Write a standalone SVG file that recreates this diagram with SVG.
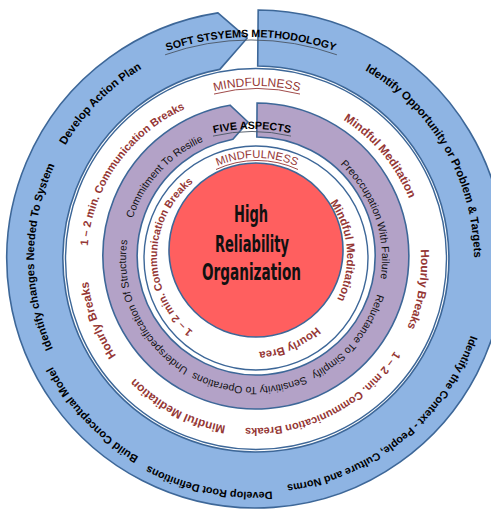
<svg xmlns="http://www.w3.org/2000/svg" width="491" height="512" viewBox="0 0 491 512">
<style>
.band{stroke:#3d6798;stroke-width:1.6;stroke-linejoin:miter}
.blue{fill:#8eb4e3}
.purple{fill:#b3a2c7}
.ring{fill:#fff;stroke:#3d6798;stroke-width:1.4}
.red{fill:#ff5f5f;stroke:#3d6798;stroke-width:1.6}
text{font-family:"Liberation Sans",Arial,sans-serif}
.bt{font-weight:bold;fill:#000;text-anchor:middle}
.pt{fill:#111;text-anchor:middle;font-size:10.5px}
.rt{font-weight:bold;fill:#953735;text-anchor:middle}
.mf{fill:#953735;text-anchor:middle}
.ul{fill:none;stroke-width:0.9}
.ctr{font-family:"Liberation Sans Narrow","DejaVu Sans Condensed","Liberation Sans",sans-serif;font-weight:bold;font-size:23px;fill:#111;text-anchor:middle}
</style>
<defs>
<path id="pB218" d="M256,477 A218,218 0 1 1 256,41 A218,218 0 1 1 256,477"/>
<path id="pB222" d="M256,481 A222,222 0 1 1 256,37 A222,222 0 1 1 256,481"/>
<path id="pB228" d="M256,487 A228,228 0 1 1 256,31 A228,228 0 1 1 256,487"/>
<path id="pB230" d="M256,489 A230,230 0 1 1 256,29 A230,230 0 1 1 256,489"/>
<path id="pB233" d="M256,492 A233,233 0 1 1 256,26 A233,233 0 1 1 256,492"/>
<path id="pP" d="M254,387 A128,128 0 1 1 254,131 A128,128 0 1 1 254,387"/>
<path id="pM" d="M254,428 A167,167 0 1 1 254,94 A167,167 0 1 1 254,428"/>
<path id="pI" d="M252,352 A95,95 0 1 1 252,162 A95,95 0 1 1 252,352"/>
<path id="pSoft" d="M121.5,71.7 A259,259 0 0 1 380.5,71.7"/>
<path id="pMind1" d="M146.4,126.2 A172,172 0 0 1 367.6,126.2"/>
<path id="pMind2" d="M180.4,193.7 A100,100 0 0 1 333.6,193.7"/>
<path id="pFive" d="M166.5,151.9 A171,171 0 0 1 337.5,151.9"/>
</defs>
<rect width="491" height="512" fill="#fff"/>

<g id="middle-ring">
<circle class="ring" cx="256" cy="259" r="190.5"/>
</g>

<g id="soft-systems-arrow">
<path class="band blue" d="M258.17,10.01 A249,249 0 1 1 217.9,12.9 L247.1,38.2 L219.8,69.4 A193,193 0 1 0 257.7,66 Z"/>
</g>

<g id="five-aspects-arrow">
<path class="band purple" d="M257.07,103 A153,153 0 1 1 230,105.2 L248,122 L232.9,139.3 A119,119 0 1 0 256.83,137 Z"/>
</g>

<g id="inner-ring">
<circle class="ring" cx="256" cy="258" r="112"/>
</g>

<g id="hro-core">
<circle class="red" cx="256" cy="250" r="87"/>
<text class="ctr" x="251" y="222" textLength="34" lengthAdjust="spacingAndGlyphs">High</text>
<text class="ctr" x="252" y="252" textLength="74" lengthAdjust="spacingAndGlyphs">Reliability</text>
<text class="ctr" x="251.5" y="280" textLength="99" lengthAdjust="spacingAndGlyphs">Organization</text>
</g>

<g id="methodology-steps">
<text class="bt" font-size="11.4" transform="rotate(59.85 256 259)"><textPath href="#pB218" startOffset="50%">Identify Opportunity or Problem &amp; Targets</textPath></text>
<text class="bt" font-size="10.8" transform="rotate(140.9 256 259)"><textPath href="#pB228" startOffset="50%">Identify the Context - People, Culture and Norms</textPath></text>
<text class="bt" font-size="10.8" transform="rotate(191.8 256 259)"><textPath href="#pB233" startOffset="50%">Develop Root Definitions</textPath></text>
<text class="bt" font-size="11.1" transform="rotate(226.4 256 259)"><textPath href="#pB230" startOffset="50%">Build Conceptual Model</textPath></text>
<text class="bt" font-size="11.1" transform="rotate(270.6 256 259)"><textPath href="#pB222" startOffset="50%">Identify changes Needed To System</textPath></text>
<text class="bt" font-size="11.4" transform="rotate(314.9 256 259)"><textPath href="#pB222" startOffset="50%">Develop Action Plan</textPath></text>
<text class="bt" font-size="10.7"><textPath href="#pSoft" startOffset="50%">SOFT STSYEMS METHODOLOGY</textPath></text>
<path class="ul" stroke="#4a5563" d="M165.1,54.8 A256,256 0 0 1 336.9,54.8"/>
</g>

<g id="five-aspects">
<text class="pt" transform="rotate(70.6 254 259)"><textPath href="#pP" startOffset="50%">Preoccupation With Failure</textPath></text>
<text class="pt" transform="rotate(129.6 254 259)"><textPath href="#pP" startOffset="50%">Reluctance To Simplify</textPath></text>
<text class="pt" transform="rotate(182.2 254 259)"><textPath href="#pP" startOffset="50%">Sensitivity To Operations</textPath></text>
<text class="pt" transform="rotate(244.6 254 259)"><textPath href="#pP" startOffset="50%">Underspecification Of Structures</textPath></text>
<text class="pt" transform="rotate(312.6 254 259)"><textPath href="#pP" startOffset="50%">Commitment To Resilie</textPath></text>
<text class="bt" font-size="10.7"><textPath href="#pFive" startOffset="50%">FIVE ASPECTS</textPath></text>
<path class="ul" stroke="#4a5563" d="M213,136.1 A168.5,168.5 0 0 1 291,136.1"/>
</g>

<g id="mindfulness-outer">
<text class="mf" font-size="12"><textPath href="#pMind1" startOffset="50%">MINDFULNESS</textPath></text>
<path class="ul" stroke="#953735" d="M214,94.05 A169.5,169.5 0 0 1 300,94.05"/>
<text class="rt" font-size="11.8" transform="rotate(50.2 254 261)"><textPath href="#pM" startOffset="50%">Mindful Meditation</textPath></text>
<text class="rt" font-size="11.8" transform="rotate(99.8 254 261)"><textPath href="#pM" startOffset="50%">Hourly Breaks</textPath></text>
<text class="rt" font-size="11" transform="rotate(152.8 254 261)"><textPath href="#pM" startOffset="50%">1 – 2 min. Communication Breaks</textPath></text>
<text class="rt" font-size="11.8" transform="rotate(207.6 254 261)"><textPath href="#pM" startOffset="50%">Mindful Meditation</textPath></text>
<text class="rt" font-size="11.8" transform="rotate(249.2 254 261)"><textPath href="#pM" startOffset="50%">Hourly Breaks</textPath></text>
<text class="rt" font-size="11" transform="rotate(305.4 254 261)"><textPath href="#pM" startOffset="50%">1 – 2 min. Communication Breaks</textPath></text>
</g>

<g id="mindfulness-inner">
<text class="mf" font-size="11.3"><textPath href="#pMind2" startOffset="50%">MINDFULNESS</textPath></text>
<path class="ul" stroke="#953735" d="M216,169.5 A97.5,97.5 0 0 1 298,169.5"/>
<text class="rt" font-size="11.5" transform="rotate(85.8 252 257)"><textPath href="#pI" startOffset="50%">Mindful Meditation</textPath></text>
<text class="rt" font-size="11.3" transform="rotate(156.5 252 257)"><textPath href="#pI" startOffset="50%">Hourly Brea</textPath></text>
<text class="rt" font-size="10.7" transform="rotate(270.2 252 257)"><textPath href="#pI" startOffset="50%">1 – 2 min. Communication Breaks</textPath></text>
</g>
</svg>
